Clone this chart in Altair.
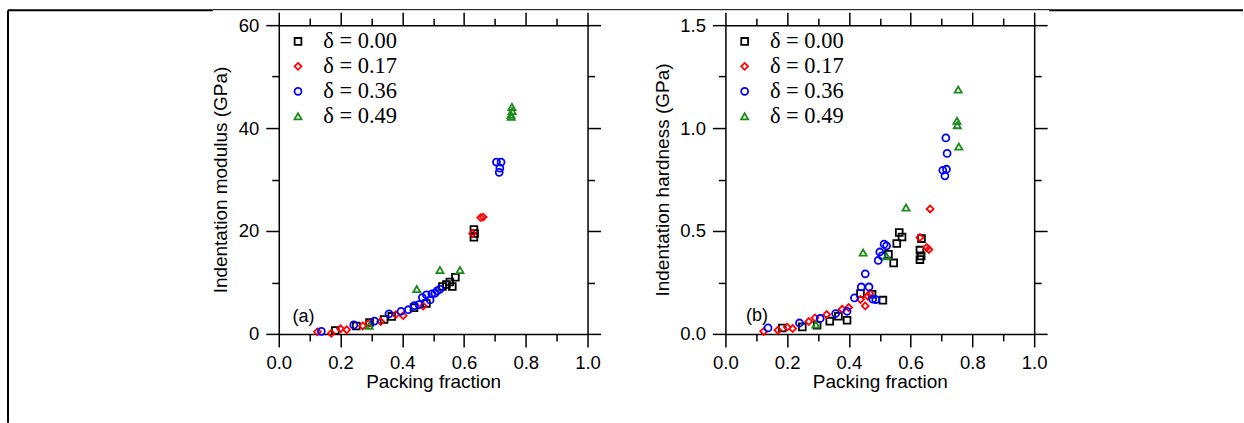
import altair as alt
import pandas as pd

series = ["δ = 0.00", "δ = 0.17", "δ = 0.36", "δ = 0.49"]
colors = ["#000000", "#ff0000", "#0000ff", "#1a8c1a"]
shapes = ["square", "diamond", "circle", "triangle-up"]
marker_sizes = [46, 50, 58, 62]

# Panel (a): indentation modulus (GPa)
a_x_000 = [0.183, 0.251, 0.294, 0.341, 0.366, 0.438, 0.478, 0.530, 0.543, 0.554, 0.562, 0.572, 0.632, 0.632, 0.634]
a_y_000 = [0.65, 1.55, 2.2, 2.8, 3.4, 5.1, 5.9, 9.2, 9.6, 10.1, 9.2, 11.0, 20.3, 18.8, 19.5]
a_x_017 = [0.125, 0.170, 0.200, 0.220, 0.272, 0.290, 0.330, 0.379, 0.403, 0.468, 0.628, 0.654, 0.662]
a_y_017 = [0.4, 0.1, 1.0, 0.8, 1.55, 2.0, 2.4, 3.75, 3.55, 5.4, 19.5, 22.6, 22.7]
a_x_036 = [0.138, 0.243, 0.310, 0.357, 0.396, 0.420, 0.439, 0.454, 0.465, 0.478, 0.490, 0.496, 0.506, 0.513, 0.522, 0.705, 0.720, 0.716, 0.714]
a_y_036 = [0.5, 1.75, 2.5, 3.9, 4.4, 4.7, 5.5, 5.7, 7.05, 7.6, 6.6, 7.8, 7.9, 8.35, 8.7, 33.4, 33.4, 32.2, 31.4]
a_x_049 = [0.293, 0.447, 0.522, 0.587, 0.755, 0.756, 0.752, 0.753]
a_y_049 = [1.6, 8.7, 12.4, 12.4, 44.1, 43.3, 42.6, 42.2]

# Panel (b): indentation hardness (GPa)
b_x_000 = [0.184, 0.249, 0.297, 0.338, 0.366, 0.394, 0.4375, 0.475, 0.510, 0.528, 0.545, 0.555, 0.563, 0.572, 0.630, 0.630, 0.634, 0.635]
b_y_000 = [0.029, 0.034, 0.042, 0.062, 0.086, 0.066, 0.196, 0.193, 0.164, 0.387, 0.345, 0.439, 0.493, 0.471, 0.407, 0.361, 0.379, 0.463]
b_x_017 = [0.124, 0.170, 0.200, 0.218, 0.270, 0.290, 0.328, 0.378, 0.399, 0.4375, 0.453, 0.461, 0.468, 0.630, 0.652, 0.659, 0.663]
b_y_017 = [0.012, 0.018, 0.033, 0.026, 0.060, 0.078, 0.094, 0.120, 0.128, 0.167, 0.136, 0.183, 0.196, 0.468, 0.420, 0.410, 0.607]
b_x_036 = [0.138, 0.240, 0.307, 0.357, 0.394, 0.418, 0.440, 0.453, 0.465, 0.477, 0.487, 0.495, 0.500, 0.507, 0.514, 0.522, 0.704, 0.716, 0.711, 0.714, 0.718]
b_y_036 = [0.029, 0.053, 0.075, 0.099, 0.110, 0.175, 0.228, 0.292, 0.228, 0.169, 0.167, 0.357, 0.398, 0.379, 0.436, 0.428, 0.795, 0.800, 0.768, 0.952, 0.877]
b_x_049 = [0.293, 0.446, 0.522, 0.585, 0.754, 0.750, 0.751, 0.756]
b_y_049 = [0.045, 0.395, 0.377, 0.614, 1.187, 1.035, 1.014, 0.910]

# panel tags
tags = ["(a)", "(b)"]
tag_x = [0.080, 0.102]
tag_y = [3.3, 0.087]

x_ticks = [0.0, 0.1, 0.2, 0.3, 0.4, 0.5, 0.6, 0.7, 0.8, 0.9, 1.0]
a_y_ticks = [0, 10, 20, 30, 40, 50, 60]
b_y_ticks = [0.0, 0.25, 0.5, 0.75, 1.0, 1.25, 1.5]


def long_df(xs_list, ys_list):
    rows = []
    for s, xs, ys in zip(series, xs_list, ys_list):
        for xv, yv in zip(xs, ys):
            rows.append({"series": s, "x": xv, "y": yv})
    return pd.DataFrame(rows)


df_a = long_df([a_x_000, a_x_017, a_x_036, a_x_049], [a_y_000, a_y_017, a_y_036, a_y_049])
df_b = long_df([b_x_000, b_x_017, b_x_036, b_x_049], [b_y_000, b_y_017, b_y_036, b_y_049])

FONT = "Liberation Sans"
MAJOR = 13
MINOR = 7


def axis(orient, values, test, fmt, title, show_labels, title_pad=4):
    kw = dict(
        orient=orient,
        values=values,
        grid=False,
        domainColor="black",
        domainWidth=1.5,
        tickColor="black",
        tickWidth=1.5,
        tickSize={"condition": {"test": test, "value": MAJOR}, "value": MINOR},
        labelOverlap=False,
        labelFlush=False,
    )
    if show_labels:
        kw.update(
            labelExpr=f"({test}) ? format(datum.value, '{fmt}') : ''",
            labelFont=FONT,
            labelFontSize=18.5,
            labelColor="black",
            labelPadding=7,
            title=title,
            titleFont=FONT,
            titleFontSize=19,
            titleFontWeight="normal",
            titleColor="black",
            titlePadding=title_pad,
        )
    else:
        kw.update(labels=False, title=None)
    return alt.Axis(**kw)


def border(x, x2, y, y2, w):
    # page frame line around the figure (decoration, pixel positions)
    return alt.Chart(pd.DataFrame({"k": [0]})).mark_rule(color="black", strokeWidth=w, strokeCap="butt").encode(
        x=alt.value(x), x2=alt.value(x2), y=alt.value(y), y2=alt.value(y2)
    )


def panel(df, ymax, yvals, ytest, yfmt, ytitle, tag, tx, ty, frame):
    xs = alt.Scale(domain=[0, 1], nice=False, zero=False)
    ys = alt.Scale(domain=[0, ymax], nice=False, zero=False)
    xtest = "round(datum.value * 10) % 2 == 0"
    leg = alt.Legend(
        title=None,
        orient="none",
        legendX=8,
        legendY=5,
        labelFont="Liberation Serif",
        labelFontSize=22.5,
        labelColor="black",
        symbolSize=22,
        symbolStrokeWidth=1.8,
        symbolFillColor="transparent",
        rowPadding=2,
        labelOffset=14,
        padding=0,
    )
    pts = alt.Chart(df).mark_point(filled=False, strokeWidth=1.8, clip=False, opacity=1).encode(
        x=alt.X("x:Q", scale=xs, axis=axis("bottom", x_ticks, xtest, ".1f", "Packing fraction", True, 0.5)),
        y=alt.Y("y:Q", scale=ys, axis=axis("left", yvals, ytest, yfmt, ytitle, True, 7.4)),
        color=alt.Color("series:N", scale=alt.Scale(domain=series, range=colors), legend=leg),
        shape=alt.Shape("series:N", scale=alt.Scale(domain=series, range=shapes), legend=leg),
        size=alt.Size("series:N", scale=alt.Scale(domain=series, range=marker_sizes), legend=None),
    )
    tdf = pd.DataFrame({"t": [tag], "x": [tx], "y": [ty]})
    lab = alt.Chart(tdf).mark_text(font=FONT, fontSize=18, color="black").encode(
        x=alt.X("x:Q", scale=xs, axis=axis("top", x_ticks, xtest, ".1f", None, False)),
        y=alt.Y("y:Q", scale=ys, axis=axis("right", yvals, ytest, yfmt, None, False)),
        text="t:N",
    )
    layers = [pts, lab] + frame
    return alt.layer(*layers).resolve_axis(x="independent", y="independent").properties(width=309, height=309)


# page frame: left edge, thick top-left piece, thin middle piece, thick right piece
frame_a = [
    border(-271, -271, -15, 398, 2),
    border(-271, -66, -15, -15, 2),
    border(-66, 771, -15.5, -15.5, 1),
    border(771, 965, -15, -15, 2),
]

pa = panel(df_a, 60, a_y_ticks, "datum.value % 20 == 0", "d", "Indentation modulus (GPa)", tags[0], tag_x[0], tag_y[0], frame_a)
pb = panel(df_b, 1.5, b_y_ticks, "round(datum.value * 4) % 2 == 0", ".1f", "Indentation hardness (GPa)", tags[1], tag_x[1], tag_y[1], [])

chart = (
    alt.hconcat(pa, pb, spacing=138, bounds="flush")
    .resolve_scale(color="independent", shape="independent", size="independent")
    .resolve_legend(color="independent", shape="independent")
    .configure(padding={"left": 7, "top": 9, "right": 0, "bottom": 0}, background="white")
    .configure_view(stroke=None)
)

chart.save("out.html", embed_options={"renderer": "svg", "actions": False})
